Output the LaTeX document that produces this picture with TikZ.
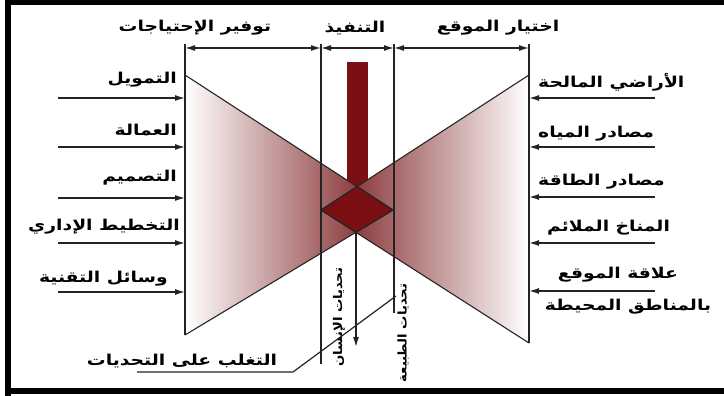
\documentclass[tikz,border=0pt]{standalone}
\usepackage{fontspec}
\usetikzlibrary{arrows.meta}
\TeXXeTstate=1
\newfontfamily\arfont[Script=Arabic, FakeStretch=1.25]{DejaVu Sans}
\newfontfamily\arvfont[Script=Arabic, FakeStretch=1.1]{DejaVu Sans}
\definecolor{barred}{RGB}{122,16,20}
\definecolor{trired}{RGB}{118,22,24}
\definecolor{linegray}{RGB}{35,35,35}
\tikzset{
  lbl/.style={inner sep=0pt, font=\arfont\bfseries\fontsize{15}{17}\selectfont},
  vlbl/.style={inner sep=0pt, rotate=90, font=\arvfont\bfseries\fontsize{12}{13}\selectfont},
  inarrow/.style={line width=1.4pt, draw=linegray, -{Latex[length=10pt,width=6pt]}},
  dimarrow/.style={line width=1.4pt, draw=linegray, {Latex[length=10pt,width=6pt]}-{Latex[length=10pt,width=6pt]}},
  guide/.style={line width=1.6pt, draw=linegray},
  edge/.style={line width=1.1pt, draw=black!85},
}
\begin{document}
\begin{tikzpicture}[x=1pt,y=-1pt]
\useasboundingbox (0,0) rectangle (724,396);
% frame
\draw[line width=6pt] (8,0) -- (8,396);
\draw[line width=5pt] (5,2.5) -- (724,2.5);
\draw[line width=6pt] (5,391) -- (724,391);

% key points
\coordinate (LT) at (185,75);
\coordinate (LB) at (185,335);
\coordinate (RT) at (529,75);
\coordinate (RB) at (529,343);
\coordinate (DL) at (321,210);
\coordinate (DR) at (393,210);
\coordinate (DT) at (357,186.6);
\coordinate (DB) at (356,232.3);

% bar
\fill[barred] (347,62) rectangle (368,192);

% triangles
\shade[left color=white, right color=trired] (LT) -- (LB) -- (DR) -- cycle;
\shade[right color=white, left color=trired] (RT) -- (RB) -- (DL) -- cycle;
\filldraw[fill=barred, edge] (DT) -- (DR) -- (DB) -- (DL) -- cycle;
\draw[edge] (LT) -- (DR) -- (LB);
\draw[edge] (RT) -- (DL) -- (RB);

% vertical guides
\coordinate (G1t) at (185,44);
\coordinate (G2t) at (321,44);
\coordinate (G3t) at (394,44);
\coordinate (G4t) at (529,44);
\coordinate (G2b) at (321,364);
\coordinate (G3b) at (394,313);
\draw[guide] (G1t) -- (LB);
\draw[guide] (G2t) -- (G2b);
\draw[guide] (G3t) -- (G3b);
\draw[guide] (G4t) -- (RB);

% dimension arrows
\coordinate (D1) at (185,48);
\coordinate (D2) at (321,48);
\coordinate (D3) at (394,48);
\coordinate (D4) at (529,48);
\draw[dimarrow] (D1) -- (D2);
\draw[dimarrow] (D2) -- (D3);
\draw[dimarrow] (D3) -- (D4);

% top labels
\node[lbl] (t1) at (195,28) {\beginR توفير الإحتياجات\endR};
\node[lbl] (t2) at (355,28) {\beginR التنفيذ\endR};
\node[lbl] (t3) at (498,28) {\beginR اختيار الموقع\endR};

% left labels and arrows
\node[lbl, anchor=east] (l1) at (177,80) {\beginR التمويل\endR};
\node[lbl, anchor=east] (l2) at (177,130) {\beginR العمالة\endR};
\node[lbl, anchor=east] (l3) at (177,178) {\beginR التصميم\endR};
\node[lbl, anchor=east] (l4) at (180,227) {\beginR التخطيط الإداري\endR};
\node[lbl, anchor=east] (l5) at (168,279) {\beginR وسائل التقنية\endR};
\foreach \y/\n in {98/1,147/2,198/3,243/4,292/5}{
  \coordinate (la\n) at (58,\y);
  \coordinate (lb\n) at (185,\y);
  \draw[inarrow] (la\n) -- (lb\n);
}

% right labels and arrows
\node[lbl, anchor=west] (r1) at (538,82) {\beginR الأراضي المالحة\endR};
\node[lbl, anchor=west] (r2) at (538,134) {\beginR مصادر المياه\endR};
\node[lbl, anchor=west] (r3) at (538,182) {\beginR مصادر الطاقة\endR};
\node[lbl, anchor=west] (r4) at (547,228) {\beginR المناخ الملائم\endR};
\node[lbl] (r5) at (618,275) {\beginR علاقة الموقع\endR};
\node[lbl] (r6) at (628,307) {\beginR بالمناطق المحيطة\endR};
\foreach \y/\n in {98/1,147/2,197/3,243/4,291/5}{
  \coordinate (ra\n) at (655,\y);
  \coordinate (rb\n) at (529,\y);
  \draw[inarrow] (ra\n) -- (rb\n);
}

% central arrow
\coordinate (AE) at (356,347);
\draw[inarrow] (DB) -- (AE);

% vertical labels
\node[vlbl] (v1) at (339,317) {\beginR تحديات الإنسان\endR};
\node[vlbl] (v2) at (403,333) {\beginR تحديات الطبيعة\endR};

% bottom label with leader
\node[lbl] (b1) at (182,361) {\beginR التغلب على التحديات\endR};
\coordinate (U1) at (137,372);
\coordinate (U2) at (293,372);
\coordinate (U3) at (396,296);
\draw[line width=1.2pt, draw=linegray] (U1) -- (U2) -- (U3);
\end{tikzpicture}
\end{document}
